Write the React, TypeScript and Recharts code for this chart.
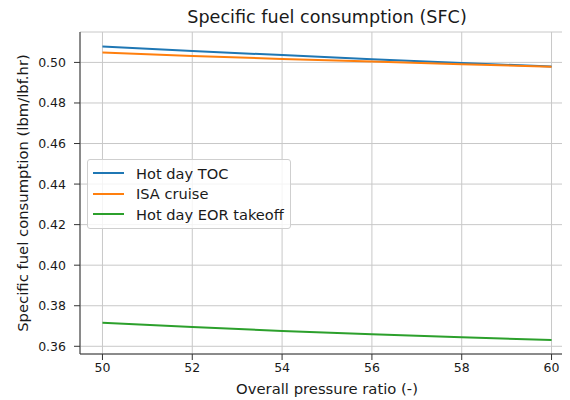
import { CartesianGrid, Label, Legend, Line, LineChart, XAxis, YAxis } from "recharts"

// overall pressure ratio (x) and SFC in lbm/(lbf.hr) for each case
const opr = [50, 52, 54, 56, 58, 60]
const hotDayToc = [0.5078, 0.5056, 0.5036, 0.5016, 0.4997, 0.498]
const isaCruise = [0.5049, 0.5032, 0.5017, 0.5004, 0.4991, 0.4979]
const hotDayEorTakeoff = [0.3716, 0.3695, 0.3676, 0.366, 0.3645, 0.3631]

const xTicks = [50, 52, 54, 56, 58, 60]
const yTicks = [0.36, 0.38, 0.4, 0.42, 0.44, 0.46, 0.48, 0.5]

const series = [
  { key: "toc", name: "Hot day TOC", color: "#1f77b4" },
  { key: "cruise", name: "ISA cruise", color: "#ff7f0e" },
  { key: "takeoff", name: "Hot day EOR takeoff", color: "#2ca02c" },
]

const data = opr.map((x, i) => ({
  opr: x,
  toc: hotDayToc[i],
  cruise: isaCruise[i],
  takeoff: hotDayEorTakeoff[i],
}))

const textColor = "#1a1a1a"
const spine = "#333"

function LegendBox() {
  return (
    <div
      style={{
        width: 204,
        boxSizing: "border-box",
        border: "1px solid #cfcfcf",
        borderRadius: 3,
        background: "rgba(255,255,255,0.8)",
        padding: "3px 0 3px 5px",
        fontSize: 14.6,
        color: textColor,
        whiteSpace: "nowrap",
      }}
    >
      {series.map((s) => (
        <div key={s.key} style={{ display: "flex", alignItems: "center", height: 20.5 }}>
          <span style={{ display: "inline-block", flex: "none", width: 31, height: 2, background: s.color, marginRight: 12 }} />
          <span>{s.name}</span>
        </div>
      ))}
    </div>
  )
}

export default function App() {
  return (
    <div style={{ width: 562, height: 392, overflow: "hidden", fontFamily: "DejaVu Sans", position: "relative" }}>
      <LineChart width={580} height={392} data={data} margin={{ top: 24, right: 14, left: 0, bottom: 16 }}>
        <CartesianGrid stroke="#c8c8c8" strokeWidth={1} />
        <XAxis
          dataKey="opr"
          type="number"
          domain={[49.5, 60.5]}
          ticks={xTicks}
          allowDataOverflow
          height={30}
          tickSize={6}
          tickMargin={3}
          tick={{ fill: textColor, fontSize: 12.5 }}
          axisLine={{ stroke: spine }}
          tickLine={{ stroke: spine }}
        >
          <Label
            content={({ viewBox }: any) => (
              <text x={viewBox.x + viewBox.width / 2} y={viewBox.y + viewBox.height + 4} textAnchor="middle" dominantBaseline="central" fontSize={14.8} fill={textColor}>
                Overall pressure ratio (-)
              </text>
            )}
          />
        </XAxis>
        <XAxis xAxisId="top" orientation="top" dataKey="opr" type="number" domain={[49.5, 60.5]} height={0} tick={false} tickLine={false} axisLine={{ stroke: spine }} />
        <YAxis
          type="number"
          domain={[0.3562, 0.515]}
          ticks={yTicks}
          allowDataOverflow
          width={72}
          tickSize={6}
          tickMargin={8}
          tickFormatter={(v: number) => v.toFixed(2)}
          tick={{ fill: textColor, fontSize: 12.5 }}
          axisLine={{ stroke: spine }}
          tickLine={{ stroke: spine }}
        >
          <Label
            content={({ viewBox }: any) => {
              const cx = 14
              const cy = viewBox.y + viewBox.height / 2
              return (
                <g>
                  <text x={cx} y={cy} transform={`rotate(-90 ${cx} ${cy})`} textAnchor="middle" dominantBaseline="central" fontSize={14.8} fill={textColor}>
                    Specific fuel consumption (lbm/lbf.hr)
                  </text>
                  <text x={319} y={9} textAnchor="middle" dominantBaseline="central" fontSize={17.6} fill={textColor}>
                    Specific fuel consumption (SFC)
                  </text>
                </g>
              )
            }}
          />
        </YAxis>
        {series.map((s) => (
          <Line
            key={s.key}
            dataKey={s.key}
            name={s.name}
            stroke={s.color}
            strokeWidth={2}
            dot={false}
            activeDot={false}
            isAnimationActive={false}
          />
        ))}
        <Legend
          layout="vertical"
          align="center"
          verticalAlign="middle"
          content={() => <LegendBox />}
          wrapperStyle={{ left: 79, top: 151, width: 204 }}
        />
      </LineChart>
    </div>
  )
}
